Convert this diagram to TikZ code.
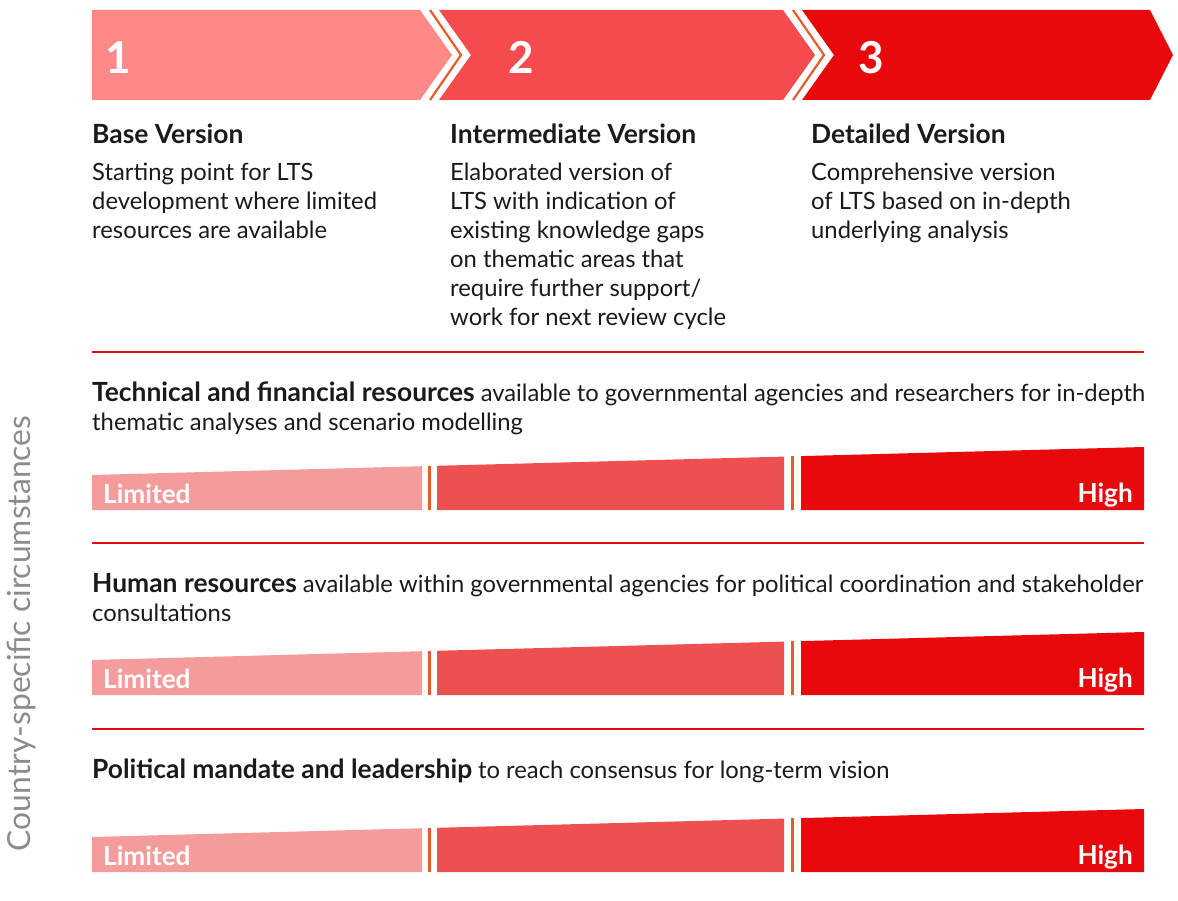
\documentclass[tikz,border=0pt]{standalone}
\usepackage{fontspec}
\setmainfont{Lato}
\definecolor{arrA}{HTML}{FE8987}
\definecolor{arrB}{HTML}{F64B4E}
\definecolor{arrC}{HTML}{E8090C}
\definecolor{barA}{HTML}{F49C9C}
\definecolor{barB}{HTML}{EE5052}
\definecolor{barC}{HTML}{E8090C}
\definecolor{sepline}{HTML}{E85A2C}
\definecolor{txt}{HTML}{1A1A1A}
\definecolor{sidegray}{HTML}{8C8C8C}
\newcommand{\bigbold}[1]{{\fontsize{26.4}{29}\selectfont\bfseries #1}}
\tikzset{
  numtxt/.style={anchor=base west, inner sep=0, text=white, font=\fontsize{44}{44}\selectfont\bfseries},
  headtxt/.style={anchor=base west, inner sep=0, text=txt, font=\fontsize{26.4}{29}\selectfont\bfseries},
  bodytxt/.style={anchor=base west, inner sep=0, text=txt, font=\fontsize{23.8}{29}\selectfont},
  bartxt/.style={inner sep=0, text=white, font=\fontsize{26.2}{26}\selectfont\bfseries},
  redrule/.style={draw=arrC, line width=2pt},
  sep/.style={draw=sepline, line width=2.6pt},
  chev/.style={draw=sepline, line width=2.2pt, line join=round}
}
\begin{document}
\begin{tikzpicture}[x=1pt,y=-1pt]
\path[use as bounding box] (0,0) rectangle (1178,901);
% top arrows
\fill[arrA] (92,10) -- (420,10) -- (452,55) -- (420,100) -- (92,100) -- cycle;
\fill[arrB] (439,10) -- (783,10) -- (815,55) -- (783,100) -- (439,100) -- (471,55) -- cycle;
\fill[arrC] (802,10) -- (1150,10) -- (1173,55) -- (1150,100) -- (802,100) -- (834,55) -- cycle;
\coordinate (c1a) at (430,10); \coordinate (c1b) at (461,55); \coordinate (c1c) at (430,100);
\coordinate (c2a) at (793,10); \coordinate (c2b) at (824,55); \coordinate (c2c) at (793,100);
\draw[chev] (c1a) -- (c1b) -- (c1c);
\draw[chev] (c2a) -- (c2b) -- (c2c);
\node[numtxt] (n1) at (105,74) {1};
\node[numtxt] (n2) at (508,74) {2};
\node[numtxt] (n3) at (858,74) {3};
% column headings
\node[headtxt] (h1) at (92,144) {Base Version};
\node[headtxt] (h2) at (450,144) {Intermediate Version};
\node[headtxt] (h3) at (811,144) {Detailed Version};
\foreach \t [count=\i from 0] in {Starting point for LTS, development where limited, resources are available}
  \node[bodytxt] (ba\i) at (92,181+29*\i) {\t};
\foreach \t [count=\i from 0] in {Elaborated version of, LTS with indication of, existing knowledge gaps, on thematic areas that, require further support/, work for next review cycle}
  \node[bodytxt] (bb\i) at (450,181+29*\i) {\t};
\foreach \t [count=\i from 0] in {Comprehensive version, of LTS based on in-depth, underlying analysis}
  \node[bodytxt] (bc\i) at (811,181+29*\i) {\t};
% rules
\coordinate (r1a) at (92,352); \coordinate (r1b) at (1144,352);
\coordinate (r2a) at (92,543); \coordinate (r2b) at (1144,543);
\coordinate (r3a) at (92,729); \coordinate (r3b) at (1144,729);
\draw[redrule] (r1a) -- (r1b);
\draw[redrule] (r2a) -- (r2b);
\draw[redrule] (r3a) -- (r3b);
% section texts
\node[bodytxt] (s1a) at (92,401) {\bigbold{Technical and financial resources} available to governmental agencies and researchers for in-depth};
\node[bodytxt] (s1b) at (92,430) {thematic analyses and scenario modelling};
\node[bodytxt] (s2a) at (92,592) {\bigbold{Human resources} available within governmental agencies for political coordination and stakeholder};
\node[bodytxt] (s2b) at (92,621) {consultations};
\node[bodytxt] (s3a) at (92,778) {\bigbold{Political mandate and leadership} to reach consensus for long-term vision};
% bars
\foreach \d [count=\k] in {0,185,362}{
  \fill[barA] (92,510+\d) -- (92,475+\d) -- (422,466.2+\d) -- (422,510+\d) -- cycle;
  \fill[barB] (437,510+\d) -- (437,465.8+\d) -- (784,456.6+\d) -- (784,510+\d) -- cycle;
  \fill[barC] (801,510+\d) -- (801,456.1+\d) -- (1144,447+\d) -- (1144,510+\d) -- cycle;
  \coordinate (sa\k) at (429.5,466+\d); \coordinate (sb\k) at (429.5,510+\d);
  \coordinate (sc\k) at (792.5,456.4+\d); \coordinate (sd\k) at (792.5,510+\d);
  \draw[sep] (sa\k) -- (sb\k);
  \draw[sep] (sc\k) -- (sd\k);
  \node[bartxt, anchor=base west] (lim\k) at (103,503+\d) {Limited};
  \node[bartxt, anchor=base east] (hi\k) at (1133,502+\d) {High};
}
% side label
\node[inner sep=0, text=sidegray, font=\fontsize{31.8}{32}\selectfont, rotate=90] (side) at (22,633.5) {Country-specific circumstances};
\end{tikzpicture}
\end{document}
